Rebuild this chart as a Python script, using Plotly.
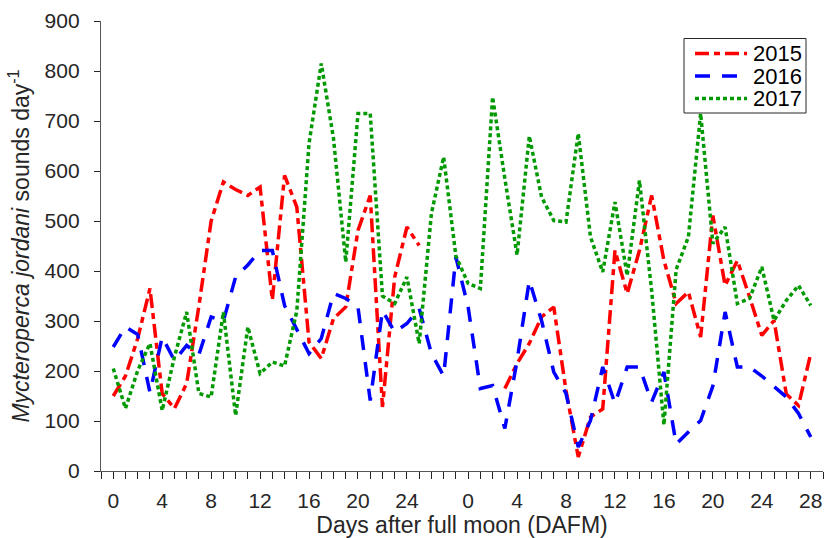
import plotly.graph_objects as go

# Two consecutive lunar cycles, days after full moon
cycle1_days = list(range(0, 29))   # 0..28
cycle2_days = list(range(0, 29))   # 0..28
cycle_len = 29

# Labelled days on the axis for each cycle
cycle1_labels = [0, 4, 8, 12, 16, 20, 24]
cycle2_labels = [0, 4, 8, 12, 16, 20, 24, 28]

# Daily sound counts (None = no recording)
sounds_2015 = [150, 190, 265, 365, 155, 125, 175, 330, 500, 578,
               563, 551, 568, 342, 591, 528, 258, 225, 305, 328,
               481, 551, 128, 388, 488, 451, None, None, None,
               None, None, None, 165, 215, 255, 308, 328, 161, 28,
               108, 124, 441, 355, 441, 551, 421, 335, 358, 268,
               511, 371, 421, 348, 271, 301, 154, 131, 235]
sounds_2016 = [248, 288, 273, 157, 268, 221, 251, 233, 308, 300,
               388, 412, 441, 441, 331, 281, 235, 265, 355, 345,
               328, 141, 321, 278, 295, 325, 235, 190, 428,
               328, 165, 171, 85, 221, 381, 301, 198, 155, 48,
               101, 208, 135, 208, 208, 138, 198, 54, 78, 101,
               170, 318, 208, 208, 190, 168, 148, 115, 68]
sounds_2017 = [205, 125, 201, 255, 121, 228, 318, 155, 148, 318,
               111, 288, 195, 218, 210, 320, 655, 815, 665, 418,
               715, 715, 350, 335, 388, 255, 515, 628, 430,
               375, 365, 748, 585, 432, 670, 548, 501, 498, 675,
               468, 398, 538, 391, 581, 360, 92, 403, 468, 715,
               455, 488, 335, 345, 408, 301, 341, 371, 331]

y_ticks = list(range(0, 901, 100))

# Continuous position along both cycles
x_pos = [d for d in cycle1_days] + [cycle_len + d for d in cycle2_days]
label_pos = cycle1_labels + [cycle_len + d for d in cycle2_labels]
label_text = [str(d) for d in cycle1_labels + cycle2_labels]

font_family = "Liberation Sans, Arial, Helvetica, sans-serif"
ink = "#262626"

series = [
    ("2015", sounds_2015, "#ff0000", "14px,5px,6px,5px"),
    ("2016", sounds_2016, "#0000ff", "15px,12px"),
    ("2017", sounds_2017, "#009a00", "4px,3px"),
]

# plot area in pixels, used to place the hand-built legend box
L, R, T, B = 101, 823, 21, 471
W, H = 825, 538


def px_x(p):
    return (p - L) / (R - L)


def px_y(p):
    return (B - p) / (B - T)


fig = go.Figure()
shapes = []
annotations = []

# legend frame
shapes.append(dict(type="rect", xref="paper", yref="paper",
                   x0=px_x(684), x1=px_x(806), y0=px_y(113), y1=px_y(38.5),
                   line=dict(color=ink, width=1), fillcolor="white", layer="above"))

row_y = [53.5, 76, 98.5]
for (name, vals, color, dash), ry in zip(series, row_y):
    fig.add_trace(go.Scatter(
        x=x_pos, y=vals, name=name, mode="lines",
        line=dict(color=color, width=3.5, dash=dash),
        connectgaps=False, showlegend=False,
    ))
    shapes.append(dict(type="line", xref="paper", yref="paper",
                       x0=px_x(695), x1=px_x(747), y0=px_y(ry), y1=px_y(ry),
                       line=dict(color=color, width=3.5, dash=dash), layer="above"))
    annotations.append(dict(xref="paper", yref="paper", x=px_x(751), y=px_y(ry),
                            xanchor="left", yanchor="middle", showarrow=False,
                            text=name, font=dict(size=22, color="black")))

fig.update_layout(
    width=W, height=H,
    margin=dict(l=L, r=W - R, t=T, b=H - B),
    paper_bgcolor="white", plot_bgcolor="white",
    font=dict(family=font_family, size=21, color=ink),
    showlegend=False,
    shapes=shapes,
    annotations=annotations,
    xaxis=dict(
        range=[-1, 58], tickmode="array", tickvals=label_pos, ticktext=label_text,
        tickangle=0,
        ticks="outside", ticklen=7, tickwidth=1, tickcolor=ink,
        minor=dict(tick0=0, dtick=1, ticks="outside", ticklen=7,
                   tickwidth=1, tickcolor=ink, showgrid=False),
        showline=True, linecolor="#555555", linewidth=1.3,
        showgrid=False, zeroline=False, ticklabelstandoff=4,
        title=dict(text="Days after full moon (DAFM)", standoff=6,
                   font=dict(size=23, color=ink)),
    ),
    yaxis=dict(
        range=[0, 900], tickvals=y_ticks,
        ticks="outside", ticklen=6, tickwidth=1, tickcolor=ink,
        showline=True, linecolor="#555555", linewidth=1.3,
        showgrid=False, zeroline=False, ticklabelstandoff=10,
        title=dict(text="<i>Mycteroperca jordani</i> sounds day<sup>-1</sup>",
                   standoff=8, font=dict(size=23, color=ink)),
    ),
)

fig.write_html("out.html")
